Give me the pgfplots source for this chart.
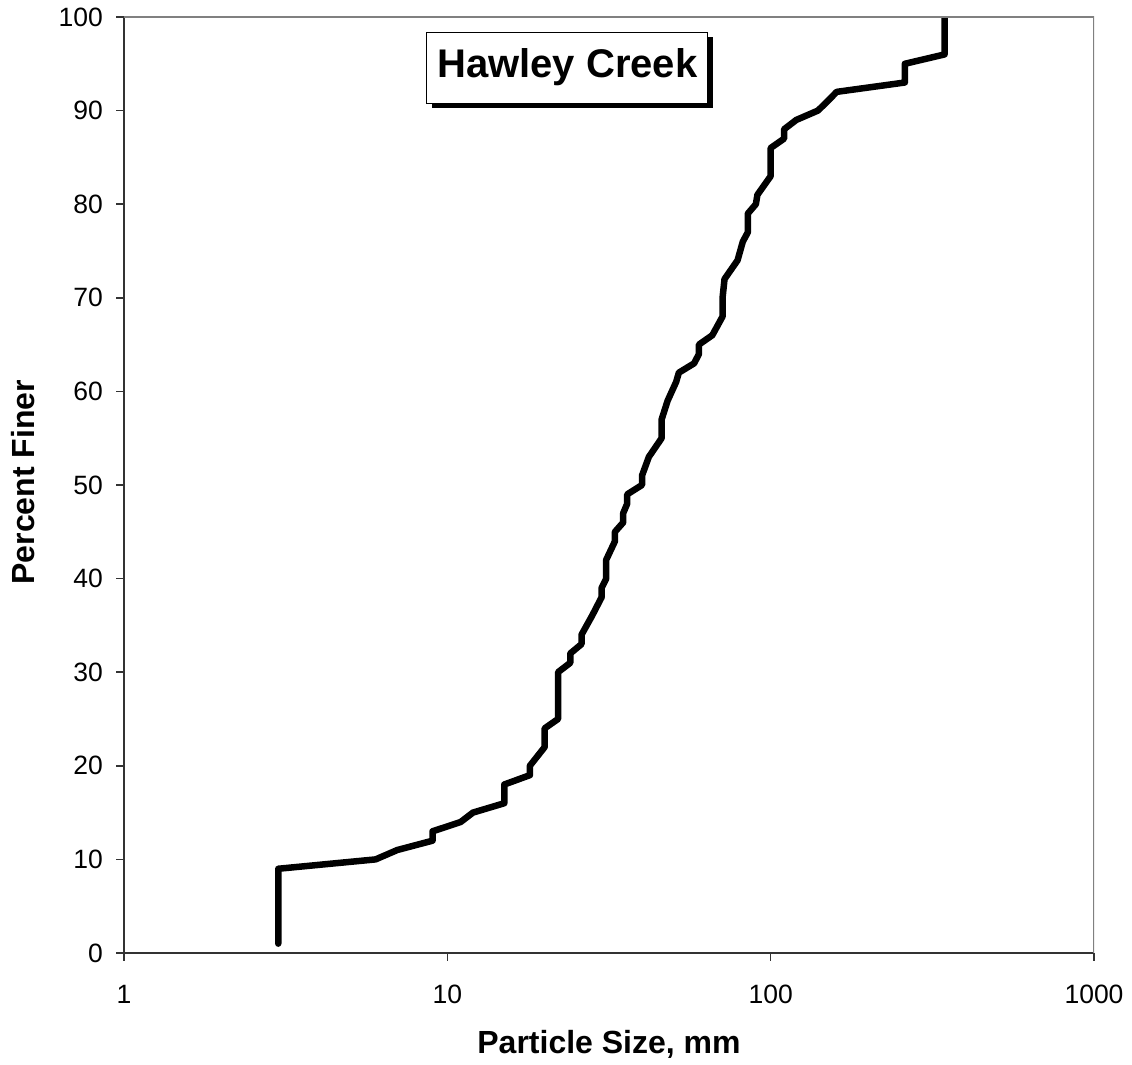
\documentclass[border=0pt]{standalone}
\usepackage{pgfplots}
\pgfplotsset{compat=1.18}
\usepackage{fontspec}
\setmainfont{Liberation Sans}
\usetikzlibrary{shadows}
\begin{document}
\begin{tikzpicture}
\useasboundingbox (0,0) rectangle (1132pt,1065pt);
\begin{axis}[
  at={(124pt,112pt)}, anchor=south west,
  width=970pt, height=936pt, scale only axis,
  xmode=log, xmin=1, xmax=1000, ymin=0, ymax=100,
  xtick={1,10,100,1000}, xticklabels={1,10,100,1000},
  ytick={0,10,...,100},
  xminorticks=false,
  axis x line*=bottom, axis y line*=left,
  axis line style={-, line width=1.5pt, black!80},
  tick style={line width=1.5pt, black!80},
  major tick length=8pt, tick align=outside,
  /pgf/number format/assume math mode=true,
  ticklabel style={font=\fontsize{26.5}{26.5}\selectfont, inner sep=0pt},
  xticklabel style={anchor=north},
  yticklabel style={anchor=east},
  xticklabel shift=24pt,
  yticklabel shift=13pt,
  every axis x label/.style={at={(rel axis cs:0.5,-0.1079)}, anchor=base, font=\fontsize{32}{32}\bfseries},
  every axis y label/.style={at={(rel axis cs:-0.1036,0.503)}, rotate=90, anchor=center, font=\fontsize{32}{32}\bfseries},
  xlabel={Particle Size, mm},
  ylabel={Percent Finer},
]
\addplot[black, line width=6.5pt, line cap=round, line join=round] coordinates {
(3,1) (3,9) (6,10) (7,11) (9,12) (9,13) (11,14) (12,15) (15,16) (15,18)
(18,19) (18,20) (20,22) (20,24) (22,25) (22,30) (24,31) (24,32) (26,33) (26,34)
(28,36) (30,38) (30,39) (31,40) (31,42) (33,44) (33,45) (35,46) (35,47) (36,48)
(36,49) (40,50) (40,51) (42,53) (46,55) (46,57) (48,59) (51,61) (52,62) (58,63)
(60,64) (60,65) (66,66) (71,68) (71,70) (72,72) (79,74) (82,76) (85,77) (85,79)
(90,80) (91,81) (100,83) (100,86) (110,87) (110,88) (120,89) (140,90) (150,91) (160,92)
(260,93) (260,95) (345,96) (345,100)
};
\draw[gray, line width=1.5pt] (rel axis cs:0,1) -- (rel axis cs:1,1) -- (rel axis cs:1,0);
\node[draw=black, line width=1pt, fill=white, minimum width=281pt, minimum height=71pt,
  font=\fontsize{40}{40}\bfseries,
  drop shadow={shadow xshift=5pt, shadow yshift=-5pt, fill=black, opacity=1}]
  at (rel axis cs:0.457,0.946) {Hawley Creek};
\end{axis}
\end{tikzpicture}
\end{document}
